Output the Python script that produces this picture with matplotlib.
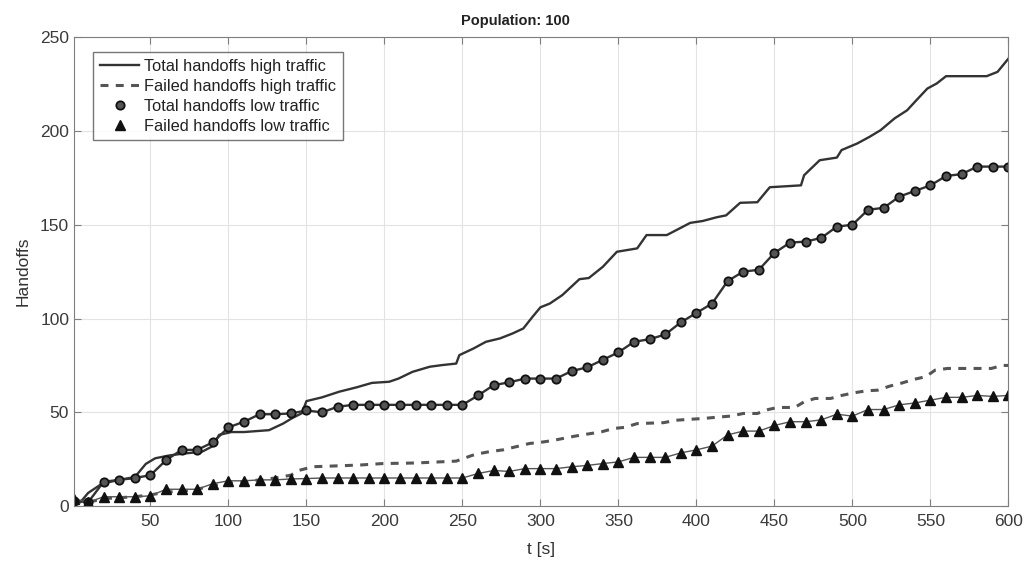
import numpy as np
import matplotlib
matplotlib.use("Agg")
import matplotlib.pyplot as plt

plt.rcParams["font.family"] = ["Liberation Sans", "DejaVu Sans"]

# Total handoffs, high traffic
t_tot_high = [1, 5, 10, 19, 30, 40, 47, 53, 62, 71, 83, 90, 94, 102, 110, 126, 135, 141, 147,
              150, 160, 171, 182, 192, 203, 209, 218, 229, 237, 246, 248, 257, 265, 274, 282,
              289, 295, 300, 306, 314, 325, 331, 340, 349, 362, 368, 381, 396, 404, 413, 419,
              428, 439, 447, 467, 469, 479, 490, 493, 503, 511, 518, 527, 535, 541, 548, 554,
              560, 586, 593, 600]
v_tot_high = [3, 2, 7, 12, 14, 15.5, 22.5, 25.5, 27, 28, 29, 32, 38, 39.5, 39.5, 40.5, 44, 47, 49.5,
              56, 58, 61, 63.3, 65.7, 66.3, 68, 71.6, 74.3, 75.2, 76, 80.5, 84, 87.6, 89.4, 92,
              94.7, 101, 106, 108, 112.5, 121, 121.6, 127.6, 135.6, 137.4, 144.5, 144.5, 151, 152,
              154, 155, 161.7, 162, 170, 171, 176.4, 184.4, 185.8, 189.8, 193.3, 196.9, 200.4,
              206.7, 211, 216.4, 222.6, 225.3, 229.2, 229.2, 231.5, 238.6]

# Failed handoffs, high traffic
t_fail_high = [1, 10, 20, 30, 40, 50, 60, 70, 80, 90, 100, 110, 120, 130, 140, 145, 154, 184,
               199, 220, 246, 256, 259, 267, 276, 284, 293, 300, 308, 314, 322, 330, 339, 347,
               354, 362, 379, 387, 396, 404, 413, 422, 430, 439, 446, 452, 463, 469, 476, 486,
               493, 501, 509, 516, 524, 532, 539, 547, 553, 561, 589, 596, 600]
v_fail_high = [3, 2, 4, 4.5, 5, 6, 7.5, 8, 9, 11, 12, 13, 14, 15, 16.5, 19, 21, 21.9,
               22.7, 23, 24, 27, 27.7, 29, 30, 31.6, 33.4, 34, 35, 36, 37.3, 38.4, 39.6, 41.4,
               42, 44, 44.5, 45.8, 46.3, 46.7, 47.4, 48, 49.4, 49.4, 51.5, 52.6, 52.6, 55.6, 57.4,
               57.4, 59, 60.4, 61.5, 61.8, 64, 65.7, 67.5, 69, 72.5, 73.4, 73.4, 75, 75]

# Low traffic series, sampled every 10 s
t_low = [1] + list(range(10, 601, 10))
v_tot_low = [3, 2, 13, 14, 15, 16.5, 24.5, 30, 30, 34, 42, 45, 49, 49, 49.4, 51, 50, 53, 54, 54,
             54, 54, 54, 54, 54, 54, 59, 64.5, 66, 68, 68, 68, 72, 74, 78, 82, 87.6, 89, 91.5, 98,
             103, 108, 120, 125, 126, 135, 140.5, 141, 143, 149, 150, 158, 159, 165, 168, 171,
             176, 177, 181, 181, 181]
v_fail_low = [4, 2, 5, 5, 5, 5.5, 9, 9, 9, 12, 13.5, 13.5, 14, 14, 14.5, 14.7, 15, 15, 15, 15,
              15, 15, 15, 15, 15, 15, 17.4, 19, 18.5, 20, 20, 20, 21, 21.7, 22.7, 23.6, 26, 26,
              26, 28.4, 30, 32, 38, 40, 40, 43, 45, 45, 46, 49, 48, 51.5, 51.5, 54, 55, 56.5, 58,
              58, 59, 58.5, 59]

fig = plt.figure(figsize=(10.28, 5.63), dpi=100)
ax = fig.add_axes([0.072, 0.101, 0.909, 0.833])

ax.plot(t_tot_high, v_tot_high, "-", color="#333333", lw=1.7, label="Total handoffs high traffic")
ax.plot(t_fail_high, v_fail_high, "--", color="#555555", lw=2.2, dashes=(2.6, 2.4),
        label="Failed handoffs high traffic")
ax.plot(t_low, v_tot_low, "-", color="#333333", lw=1.7)
ax.plot(t_low, v_fail_low, "-", color="#555555", lw=1.0)
ax.plot(t_low, v_tot_low, "o", ms=6, mfc="#555555", mec="#111111", mew=1.3, linestyle="none",
        label="Total handoffs low traffic")
ax.plot(t_low, v_fail_low, "^", ms=6.5, mfc="#111111", mec="#111111", linestyle="none",
        label="Failed handoffs low traffic")

ax.set_xlim(1, 600)
ax.set_ylim(0, 250)
ax.set_xticks(np.arange(50, 601, 50))
ax.set_yticks(np.arange(0, 251, 50))
ax.grid(True, color="#e3e3e3", lw=0.8)
ax.set_axisbelow(True)
for s in ax.spines.values():
    s.set_color("#7f7f7f")
ax.tick_params(direction="in", colors="#7f7f7f", labelcolor="#3a3a3a", labelsize=12.5,
               length=5, top=True, right=True)
ax.tick_params(axis="x", pad=6)

ax.set_xlabel("t [s]", fontsize=12.5, color="#333333", labelpad=9)
ax.set_ylabel("Handoffs", fontsize=12.5, color="#333333", labelpad=7)
ax.set_title("Population: 100", fontsize=10.5, fontweight="bold", color="#222222", pad=9,
             x=0.472)

leg = ax.legend(loc="upper left", bbox_to_anchor=(0.012, 0.985), fontsize=11.8, frameon=True,
                fancybox=False, edgecolor="#555555", handlelength=2.4, handletextpad=0.3,
                borderpad=0.4, labelspacing=0.3)
leg.get_frame().set_linewidth(1.0)
for txt in leg.get_texts():
    txt.set_color("#222222")

plt.savefig("out.png", dpi=100)
